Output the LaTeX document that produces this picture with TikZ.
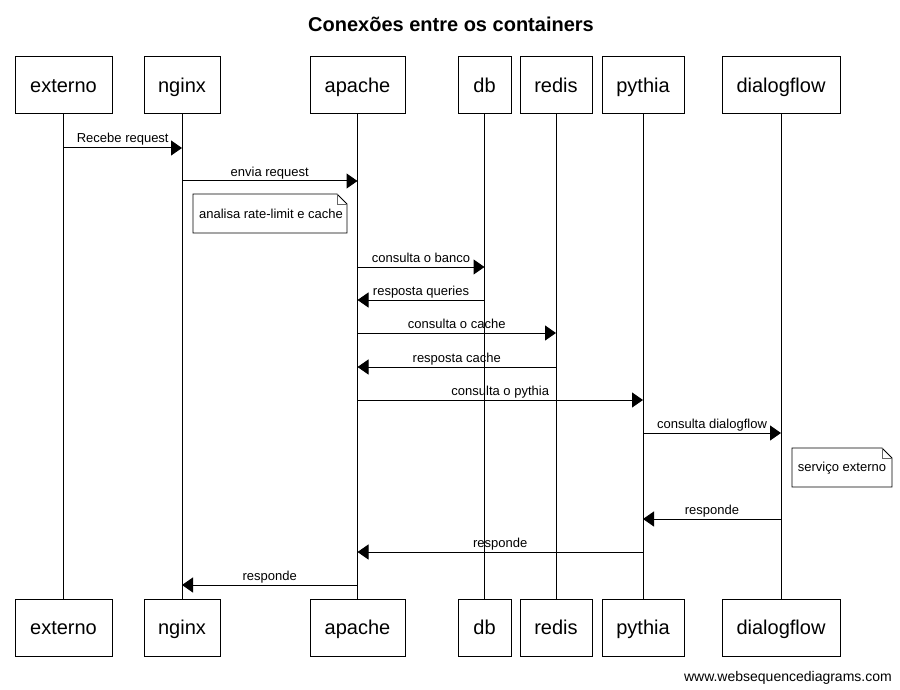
\documentclass[tikz,border=0pt]{standalone}
\usepackage{fontspec}
\setmainfont{Liberation Sans}
\usetikzlibrary{arrows.meta}
\begin{document}
\begin{tikzpicture}[x=1pt,y=-1pt,
  part/.style={draw,line width=1pt,minimum height=57pt,inner sep=0pt,
    text height=14.3pt,text depth=0pt,font=\fontsize{20}{24}\selectfont},
  life/.style={line width=1pt},
  msg/.style={line width=1pt,-{Triangle[length=11pt,width=15pt]}},
  lbl/.style={anchor=base,inner sep=0pt,font=\fontsize{13}{15}\selectfont},
  notetxt/.style={inner sep=0pt,font=\fontsize{13}{15}\selectfont},
  notebox/.style={line width=0.8pt,fill=white},
  fold/.style={line width=0.8pt,draw=gray!80!black}]
\useasboundingbox (0,0) rectangle (900,690);
\fill[white] (0,0) rectangle (900,690);

\node[anchor=base,font=\fontsize{20}{24}\selectfont\bfseries] (title) at (451,32) {Conexões entre os containers};

% participants top
\node[part,minimum width=97pt] (tA) at (63.5,85.5) {externo};
\node[part,minimum width=76pt] (tB) at (182,85.5) {nginx};
\node[part,minimum width=95pt] (tC) at (357.5,85.5) {apache};
\node[part,minimum width=53pt] (tD) at (484.5,85.5) {db};
\node[part,minimum width=72pt] (tE) at (556,85.5) {redis};
\node[part,minimum width=82pt] (tF) at (643,85.5) {pythia};
\node[part,minimum width=118pt] (tG) at (781,85.5) {dialogflow};
% participants bottom
\node[part,minimum width=97pt] (bA) at (63.5,627.5) {externo};
\node[part,minimum width=76pt] (bB) at (182,627.5) {nginx};
\node[part,minimum width=95pt] (bC) at (357.5,627.5) {apache};
\node[part,minimum width=53pt] (bD) at (484.5,627.5) {db};
\node[part,minimum width=72pt] (bE) at (556,627.5) {redis};
\node[part,minimum width=82pt] (bF) at (643,627.5) {pythia};
\node[part,minimum width=118pt] (bG) at (781,627.5) {dialogflow};
% lifelines
\foreach \p in {A,B,C,D,E,F,G} \draw[life] (t\p.south) -- (b\p.north);

% note 1
\draw[notebox] (193,194) -- (337,194) -- (347,204) -- (347,233) -- (193,233) -- cycle;
\draw[fold] (337,194) -- (337,204) -- (347,204);
\node[notetxt] (n1) at (271,214) {analisa rate-limit e cache};
% note 2
\draw[notebox] (792,448) -- (882,448) -- (892,458) -- (892,487) -- (792,487) -- cycle;
\draw[fold] (882,448) -- (882,458) -- (892,458);
\node[notetxt] (n2) at (842,468) {serviço externo};

% message end points
\coordinate (m1a) at (tA |- 0,148);  \coordinate (m1b) at (tB |- 0,148);
\coordinate (m2a) at (tB |- 0,181);  \coordinate (m2b) at (tC |- 0,181);
\coordinate (m3a) at (tC |- 0,267);  \coordinate (m3b) at (tD |- 0,267);
\coordinate (m4a) at (tD |- 0,300);  \coordinate (m4b) at (tC |- 0,300);
\coordinate (m5a) at (tC |- 0,333);  \coordinate (m5b) at (tE |- 0,333);
\coordinate (m6a) at (tE |- 0,367);  \coordinate (m6b) at (tC |- 0,367);
\coordinate (m7a) at (tC |- 0,400);  \coordinate (m7b) at (tF |- 0,400);
\coordinate (m8a) at (tF |- 0,433);  \coordinate (m8b) at (tG |- 0,433);
\coordinate (m9a) at (tG |- 0,519);  \coordinate (m9b) at (tF |- 0,519);
\coordinate (m10a) at (tF |- 0,552); \coordinate (m10b) at (tC |- 0,552);
\coordinate (m11a) at (tC |- 0,585); \coordinate (m11b) at (tB |- 0,585);

\draw[msg] (m1a) -- node[lbl,yshift=5pt] {Recebe request} (m1b);
\draw[msg] (m2a) -- node[lbl,yshift=5pt] {envia request} (m2b);
\draw[msg] (m3a) -- node[lbl,yshift=5pt] {consulta o banco} (m3b);
\draw[msg] (m4a) -- node[lbl,yshift=5pt] {resposta queries} (m4b);
\draw[msg] (m5a) -- node[lbl,yshift=5pt] {consulta o cache} (m5b);
\draw[msg] (m6a) -- node[lbl,yshift=5pt] {resposta cache} (m6b);
\draw[msg] (m7a) -- node[lbl,yshift=5pt] {consulta o pythia} (m7b);
\draw[msg] (m8a) -- node[lbl,yshift=5pt] {consulta dialogflow} (m8b);
\draw[msg] (m9a) -- node[lbl,yshift=5pt] {responde} (m9b);
\draw[msg] (m10a) -- node[lbl,yshift=5pt] {responde} (m10b);
\draw[msg] (m11a) -- node[lbl,yshift=5pt] {responde} (m11b);

\node[anchor=base east,inner sep=0pt,font=\fontsize{14}{16}\selectfont] (footer) at (892,681) {www.websequencediagrams.com};
\end{tikzpicture}
\end{document}
